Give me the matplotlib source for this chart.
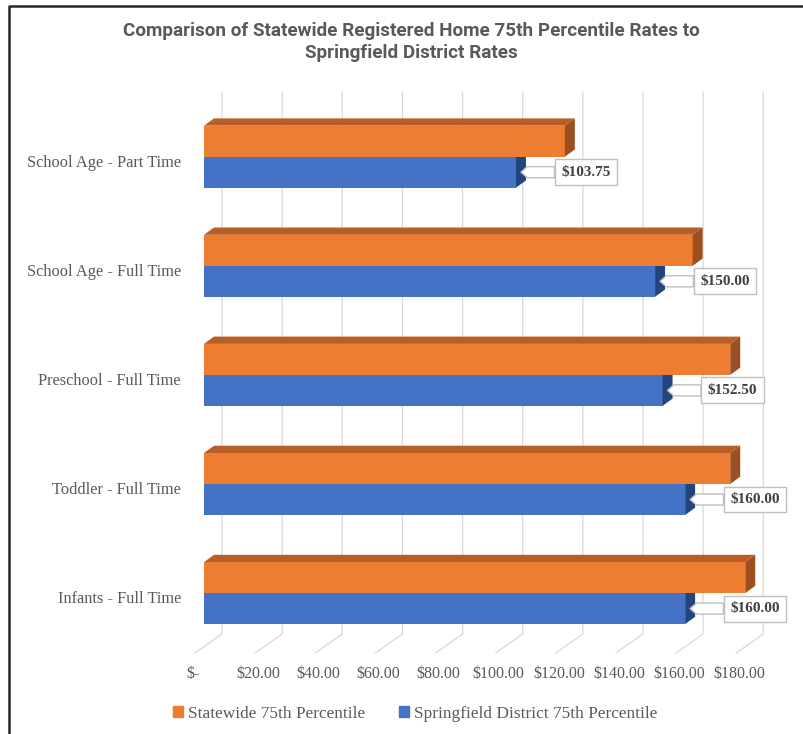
import matplotlib.pyplot as plt
from matplotlib.patches import Polygon, Patch
from matplotlib.lines import Line2D

# datos
categorias = ["School Age - Part Time", "School Age - Full Time", "Preschool - Full Time",
              "Toddler - Full Time", "Infants - Full Time"]
statewide = [120.00, 162.50, 175.00, 175.00, 180.00]
springfield = [103.75, 150.00, 152.50, 160.00, 160.00]
ticks = [0, 20, 40, 60, 80, 100, 120, 140, 160, 180]
tick_labels = ["$-", "$20.00", "$40.00", "$60.00", "$80.00", "$100.00",
               "$120.00", "$140.00", "$160.00", "$180.00"]

naranja, naranja_top, naranja_lado = "#ED7D31", "#BA5E27", "#9C4F1F"
azul, azul_top, azul_lado = "#4472C4", "#34599B", "#23457E"
gris = "#595959"

W, H = 804, 734
fig = plt.figure(figsize=(W / 100, H / 100), dpi=100)

# geometria en pixeles
x0_px, px_unit = 204, 3.007
y_top_px, paso = 102.15, 109.1
ax = fig.add_axes([x0_px / W, (H - (y_top_px + 5 * paso)) / H, 180 * px_unit / W, 5 * paso / H])
ax.set_xlim(0, 180)
ax.set_ylim(4.5, -0.5)
ax.axis("off")


def xd(px):  # desplazamiento en pixeles -> unidades de datos
    return px / px_unit


def yd(py):  # pixel absoluto -> dato
    return -0.5 + (py - y_top_px) / paso


# grilla del fondo y del piso
for v in ticks:
    ax.add_line(Line2D([v + xd(18), v + xd(18), v - xd(9)], [yd(92), yd(634), yd(653)],
                       color="#D9D9D9", lw=0.9, zorder=1, clip_on=False))

h = 31 / paso
ddx, ddy = xd(10), 7.3 / paso


def barra3d(y_c, v, c_front, c_top, c_side):
    top, bot = y_c - h / 2, y_c + h / 2
    ax.barh(y_c, v, height=h, color=c_front, zorder=3)
    ax.add_patch(Polygon([(0, top), (v, top), (v + ddx, top - ddy), (ddx, top - ddy)],
                         closed=True, fc=c_top, ec="none", zorder=3, clip_on=False))
    ax.add_patch(Polygon([(v, top), (v, bot), (v + ddx, bot - ddy), (v + ddx, top - ddy)],
                         closed=True, fc=c_side, ec="none", zorder=3, clip_on=False))


for i in range(len(categorias)):
    barra3d(i + h / 2, springfield[i], azul, azul_top, azul_lado)
    barra3d(i - h / 2, statewide[i], naranja, naranja_top, naranja_lado)

# etiquetas de datos tipo llamada
for i, v in enumerate(springfield):
    ax.annotate("${:.2f}".format(v), xy=(v + xd(5), i + h / 2), xytext=(65, 0),
                textcoords="offset pixels", ha="center", va="center",
                fontsize=11, fontweight="bold", color="#404040", family="Liberation Serif",
                bbox=dict(boxstyle="square,pad=0.42", fc="white", ec="#BFBFBF", lw=1),
                arrowprops=dict(arrowstyle="simple,head_length=0.45,head_width=0.8,tail_width=0.8",
                                fc="white", ec="#BFBFBF", lw=1, shrinkA=0, shrinkB=0,
                                mutation_scale=10),
                zorder=5, annotation_clip=False)

# etiquetas de ejes
for v, lab in zip(ticks, tick_labels):
    dx = -xd(11) if v == 0 else -xd(6)
    ax.text(v + dx, yd(674), lab, ha="center", va="center", fontsize=11.5,
            color=gris, family="Liberation Serif", clip_on=False)
for i, cat in enumerate(categorias):
    ax.text(-xd(23), i + 6 / paso, cat, ha="right", va="center", fontsize=11.8,
            color=gris, family="Liberation Serif", clip_on=False)

fig.text(411 / W, 1 - 42 / H, "Comparison of Statewide Registered Home 75th Percentile Rates to\n"
         "Springfield District Rates", ha="center", va="center", fontsize=13.6,
         fontweight="semibold", color=gris, family=["Roboto", "DejaVu Sans"], linespacing=1.3)

fig.legend(handles=[Patch(color=naranja, label="Statewide 75th Percentile"),
                    Patch(color=azul, label="Springfield District 75th Percentile")],
           loc="center", bbox_to_anchor=(415 / W, 1 - 714 / H), ncol=2, frameon=False,
           handlelength=0.6, handleheight=0.6, handletextpad=0.25, columnspacing=2.0,
           prop={"family": "Liberation Serif", "size": 12.4}, labelcolor=gris)

# marco
fig.add_artist(Line2D([9.5 / W, 9.5 / W, 1], [0, 1 - 6 / H, 1 - 6 / H],
                      transform=fig.transFigure, color="#262626", lw=1.8))

fig.savefig("out.png", dpi=100)
